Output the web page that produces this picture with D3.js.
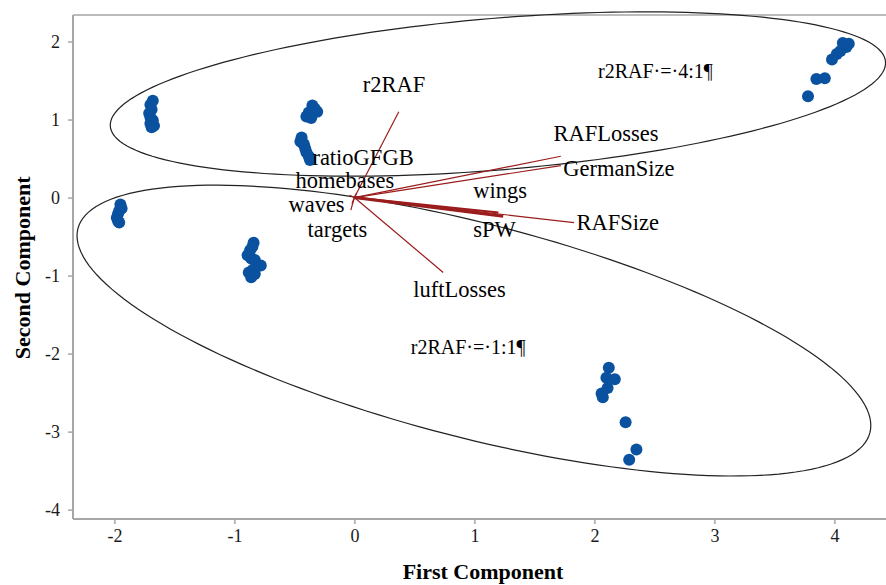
<!DOCTYPE html>
<html>
<head>
<meta charset="utf-8">
<script src="https://cdn.jsdelivr.net/npm/d3@7"></script>
<style>
  body { margin: 0; background: #fff; }
  svg { display: block; font-family: "Liberation Serif", "Times New Roman", serif; }
</style>
</head>
<body>
<div id="chart"></div>
<script>
// PCA scores (first, second component)
const scoreX = [
  -1.68, -1.70, -1.69, -1.71, -1.70, -1.68, -1.70, -1.67, -1.69,
  -0.35, -0.33, -0.31, -0.38, -0.40, -0.36,
  -0.44, -0.45, -0.42, -0.41, -0.40, -0.38, -0.37, -0.43,
  -1.95, -1.94, -1.96, -1.97, -1.98, -1.97, -1.96,
  -0.84, -0.85, -0.87, -0.89, -0.86, -0.83, -0.78, -0.82, -0.85, -0.83, -0.86, -0.88,
  2.12, 2.10, 2.17, 2.06, 2.11, 2.07, 2.26, 2.35, 2.29,
  3.78, 3.85, 3.92, 3.98, 4.02, 4.05, 4.10, 4.07, 4.12
];
const scoreY = [
  1.24, 1.19, 1.13, 1.08, 1.03, 0.99, 0.95, 0.92, 0.90,
  1.18, 1.14, 1.10, 1.09, 1.04, 1.02,
  0.77, 0.72, 0.68, 0.63, 0.58, 0.53, 0.48, 0.70,
  -0.09, -0.14, -0.17, -0.21, -0.26, -0.30, -0.32,
  -0.58, -0.63, -0.68, -0.74, -0.78, -0.80, -0.87, -0.89, -0.93, -0.98, -1.02, -0.96,
  -2.18, -2.31, -2.33, -2.51, -2.44, -2.56, -2.88, -3.23, -3.36,
  1.30, 1.52, 1.53, 1.77, 1.84, 1.88, 1.93, 1.98, 1.97
];

// loading vectors
const varNames = ["r2RAF", "RAFLosses", "GermanSize", "RAFSize", "wings", "sPW",
                  "luftLosses", "waves", "targets", "homebases", "ratioGFGB"];
const loadX = [0.37, 1.72, 1.72, 1.83, 1.20, 1.24, 0.74, -0.03, -0.02, -0.04, 0.02];
const loadY = [1.10, 0.53, 0.41, -0.32, -0.19, -0.24, -0.96, -0.16, -0.08, 0.03, 0.06];
// where each variable name sits (data units, left/baseline)
const labelX = [0.07, 1.66, 1.74, 1.85, 0.99, 0.99, 0.49, -0.55, -0.39, -0.49, -0.35];
const labelY = [1.35, 0.72, 0.27, -0.41, 0.00, -0.51, -1.28, -0.18, -0.50, 0.12, 0.42];

// group ellipses: center, major and minor half-axis vectors (data units)
const ellipseNames = ["r2RAF = 4:1", "r2RAF = 1:1"];
const ellCenter = [[1.196, 1.327], [0.996, -1.705]];
const ellMajor = [[3.23, 0.415], [3.30, -1.308]];
const ellMinor = [[0.053, -0.968], [-0.222, -1.328]];
const groupText = ["r2RAF\u00b7=\u00b74:1\u00b6", "r2RAF\u00b7=\u00b71:1\u00b6"];
const groupAt = [[2.03, 1.53], [0.47, -2.01]];

const xTicks = [-2, -1, 0, 1, 2, 3, 4];
const yTicks = [-4, -3, -2, -1, 0, 1, 2];

const width = 886, height = 585;
const margin = { top: 15, right: 0, bottom: 66, left: 73 };

const svg = d3.select("#chart").append("svg")
    .attr("width", width)
    .attr("height", height);

const x = d3.scaleLinear().domain([-2.345, 4.43]).range([margin.left, width - margin.right]);
const y = d3.scaleLinear().domain([-4.12, 2.34]).range([height - margin.bottom, margin.top]);

// frame + axes
const axisColor = "#a6a6a6";
svg.append("line")
    .attr("x1", margin.left).attr("x2", width)
    .attr("y1", margin.top).attr("y2", margin.top)
    .attr("stroke", axisColor).attr("stroke-width", 1.5);

const xAxis = svg.append("g")
    .attr("transform", `translate(0,${height - margin.bottom})`)
    .call(d3.axisBottom(x).tickValues(xTicks).tickFormat(d => String(d))
        .tickSize(5).tickSizeOuter(0).tickPadding(5));
const yAxis = svg.append("g")
    .attr("transform", `translate(${margin.left},0)`)
    .call(d3.axisLeft(y).tickValues(yTicks).tickFormat(d => String(d))
        .tickSize(5).tickSizeOuter(0).tickPadding(8));

[xAxis, yAxis].forEach(g => {
  g.select(".domain").attr("stroke", axisColor).attr("stroke-width", 2);
  g.selectAll(".tick line").attr("stroke", axisColor).attr("stroke-width", 1.5);
  g.selectAll(".tick text")
      .attr("fill", "#1a1a1a")
      .style("font-family", "'Liberation Serif', serif")
      .style("font-size", "18px");
});
// domain line runs to the right edge
xAxis.select(".domain").attr("d", `M${margin.left},0H${width}`);
yAxis.select(".domain").attr("d", `M0,${margin.top}V${height - margin.bottom}`);

svg.append("text")
    .attr("x", 483).attr("y", 579)
    .attr("text-anchor", "middle")
    .style("font-size", "22px").style("font-weight", "bold")
    .text("First Component");

svg.append("text")
    .attr("transform", `translate(30,${y(-0.9)}) rotate(-90)`)
    .attr("text-anchor", "middle")
    .style("font-size", "22px").style("font-weight", "bold")
    .text("Second Component");

// ellipses
const tSteps = d3.range(0, 361, 2).map(d => d * Math.PI / 180);
const ellLine = d3.line().x(d => x(d[0])).y(d => y(d[1])).curve(d3.curveLinearClosed);
ellipseNames.forEach((name, i) => {
  const pts = tSteps.map(t => [
    ellCenter[i][0] + ellMajor[i][0] * Math.cos(t) + ellMinor[i][0] * Math.sin(t),
    ellCenter[i][1] + ellMajor[i][1] * Math.cos(t) + ellMinor[i][1] * Math.sin(t)
  ]);
  svg.append("path")
      .attr("d", ellLine(pts))
      .attr("fill", "none")
      .attr("stroke", "#222")
      .attr("stroke-width", 1.2);
});

// score points
svg.append("g").selectAll("circle")
  .data(scoreX.map((d, i) => [d, scoreY[i]]))
  .join("circle")
    .attr("cx", d => x(d[0]))
    .attr("cy", d => y(d[1]))
    .attr("r", 6)
    .attr("fill", "#0a52a0");

// loading vectors
const vecColor = "#9b1c1c";
svg.append("g").selectAll("line")
  .data(varNames)
  .join("line")
    .attr("x1", x(0)).attr("y1", y(0))
    .attr("x2", (d, i) => x(loadX[i]))
    .attr("y2", (d, i) => y(loadY[i]))
    .attr("stroke", vecColor)
    .attr("stroke-width", d => d === "sPW" ? 3 : (d === "wings" ? 2 : 1.2));

svg.append("g").selectAll("text")
  .data(varNames)
  .join("text")
    .attr("x", (d, i) => x(labelX[i]))
    .attr("y", (d, i) => y(labelY[i]))
    .style("font-size", "22.5px")
    .attr("fill", "#000")
    .text(d => d);

svg.append("g").selectAll("text")
  .data(groupText)
  .join("text")
    .attr("x", (d, i) => x(groupAt[i][0]))
    .attr("y", (d, i) => y(groupAt[i][1]))
    .style("font-size", "20px")
    .attr("fill", "#000")
    .text(d => d);
</script>
</body>
</html>
